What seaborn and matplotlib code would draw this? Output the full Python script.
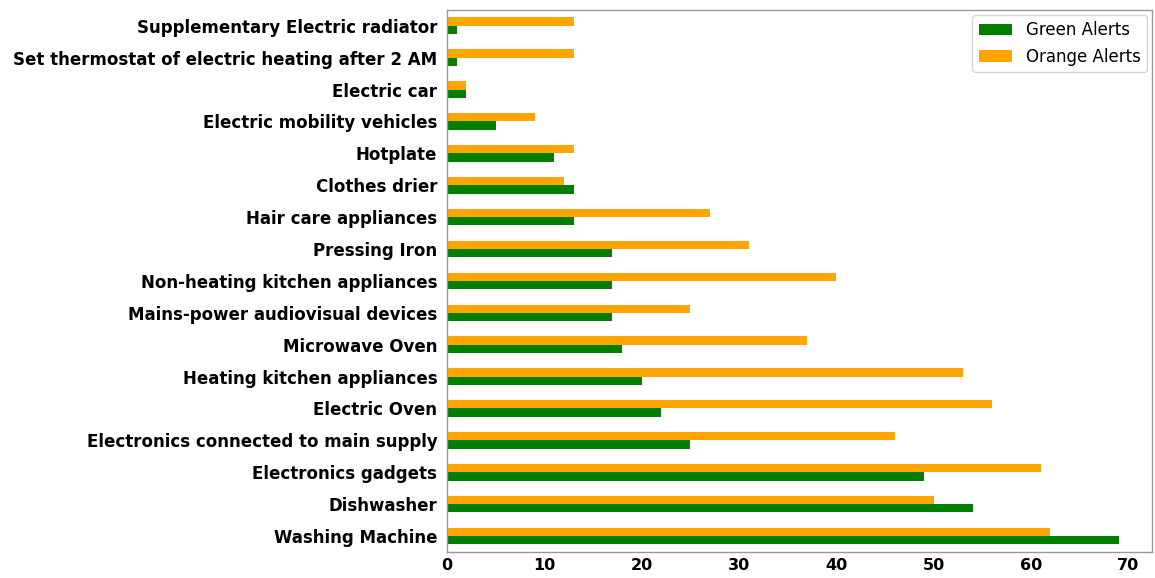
import pandas as pd
import matplotlib.pyplot as plt
import seaborn as sns

# categories from top to bottom as drawn
appliances = [
    "Supplementary Electric radiator",
    "Set thermostat of electric heating after 2 AM",
    "Electric car",
    "Electric mobility vehicles",
    "Hotplate",
    "Clothes drier",
    "Hair care appliances",
    "Pressing Iron",
    "Non-heating kitchen appliances",
    "Mains-power audiovisual devices",
    "Microwave Oven",
    "Heating kitchen appliances",
    "Electric Oven",
    "Electronics connected to main supply",
    "Electronics gadgets",
    "Dishwasher",
    "Washing Machine",
]
green_alerts = [1, 1, 2, 5, 11, 13, 13, 17, 17, 17, 18, 20, 22, 25, 49, 54, 69]
orange_alerts = [13, 13, 2, 9, 13, 12, 27, 31, 40, 25, 37, 53, 56, 46, 61, 50, 62]

df = pd.DataFrame({
    "appliance": appliances * 2,
    "count": green_alerts + orange_alerts,
    "alert": ["Green Alerts"] * len(appliances) + ["Orange Alerts"] * len(appliances),
})

sns.set_style("white")
plt.rcParams["text.color"] = "black"
plt.rcParams["xtick.color"] = "black"
plt.rcParams["ytick.color"] = "black"

fig = plt.figure(figsize=(11.55, 5.78), dpi=100)
ax = fig.add_axes([0.387, 0.045, 0.6105, 0.938])

sns.barplot(data=df, y="appliance", x="count", hue="alert", order=appliances,
            hue_order=["Orange Alerts", "Green Alerts"],
            palette={"Green Alerts": "#008000", "Orange Alerts": "#FFA500"},
            saturation=1, width=0.52, orient="h", linewidth=0, ax=ax)

ax.set_xlim(0, 72.45)
ax.set_ylim(len(appliances) - 0.5, -0.5)
ax.set_xlabel("")
ax.set_ylabel("")
ax.set_xticks(range(0, 71, 10))
ax.tick_params(axis="both", length=3.5, width=1, labelsize=12)
ax.tick_params(axis="x", pad=1, labelsize=11.5)
for lbl in ax.get_yticklabels() + ax.get_xticklabels():
    lbl.set_fontweight("bold")
for sp in ax.spines.values():
    sp.set_visible(True)
    sp.set_color("0.6")
    sp.set_linewidth(1)

handles, labels = ax.get_legend_handles_labels()
ax.legend(handles[::-1], labels[::-1], loc="upper right", fontsize=12,
          frameon=True, labelspacing=0.5, borderaxespad=0.3)

plt.savefig("out.png")
